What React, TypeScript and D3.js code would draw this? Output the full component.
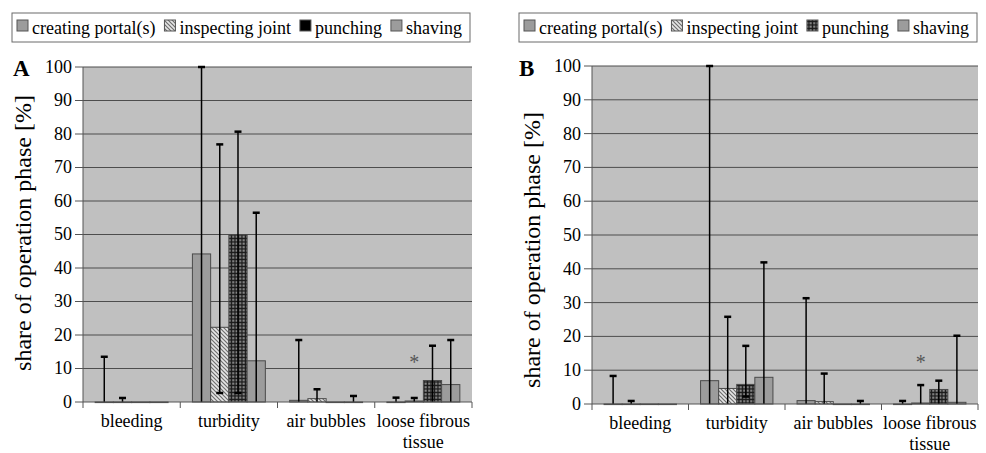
import React from "react";
import * as d3 from "d3";

const categories = ["bleeding", "turbidity", "air bubbles", "loose fibrous tissue"];
const categoryLines = [["bleeding"], ["turbidity"], ["air bubbles"], ["loose fibrous", "tissue"]];
const phases = ["creating portal(s)", "inspecting joint", "punching", "shaving"];
const yTicks = [0, 10, 20, 30, 40, 50, 60, 70, 80, 90, 100];

// panel A: means, upper whisker, lower whisker (per phase, per category)
const creatingA = [0, 44.2, 0.5, 0];
const inspectingA = [0, 22.3, 1.0, 0.3];
const punchingA = [0, 49.9, 0, 6.4];
const shavingA = [0, 12.3, 0, 5.2];
const creatingAHi = [13.5, 100, 18.5, 1.3];
const inspectingAHi = [1.2, 76.9, 3.8, 1.2];
const punchingAHi = [0, 80.7, 0, 16.8];
const shavingAHi = [0, 56.5, 1.8, 18.5];
const creatingALo = [0, 0, 0, 0];
const inspectingALo = [0, 2.7, 0, 0];
const punchingALo = [0, 2.7, 0, 0];
const shavingALo = [0, 0, 0, 0];

// panel B
const creatingB = [0, 6.9, 1.0, 0];
const inspectingB = [0, 4.6, 0.7, 0.3];
const punchingB = [0, 5.8, 0, 4.3];
const shavingB = [0, 7.9, 0, 0.5];
const creatingBHi = [8.3, 100, 31.3, 0.9];
const inspectingBHi = [0.9, 25.8, 9.0, 5.6];
const punchingBHi = [0, 17.2, 0, 6.9];
const shavingBHi = [0, 41.9, 0.9, 20.2];
const creatingBLo = [0, 0, 0, 0];
const inspectingBLo = [0, 0, 0, 0];
const punchingBLo = [0, 2.2, 0, 0];
const shavingBLo = [0, 0, 0, 0];

// asterisk marker (category, phase, height)
const starA = { cat: "loose fibrous tissue", phase: "inspecting joint", value: 12.8 };
const starB = { cat: "loose fibrous tissue", phase: "inspecting joint", value: 13.2 };

const panels = [
  {
    label: "A",
    means: [creatingA, inspectingA, punchingA, shavingA],
    hi: [creatingAHi, inspectingAHi, punchingAHi, shavingAHi],
    lo: [creatingALo, inspectingALo, punchingALo, shavingALo],
    star: starA,
    left: 83, right: 472, top: 67, bottom: 402,
    legendX: 12, legendW: 458, punchLegend: "#000",
    labelX: 13, titleX: 23, titleY: 233, xLabelY: 427,
  },
  {
    label: "B",
    means: [creatingB, inspectingB, punchingB, shavingB],
    hi: [creatingBHi, inspectingBHi, punchingBHi, shavingBHi],
    lo: [creatingBLo, inspectingBLo, punchingBLo, shavingBLo],
    star: starB,
    left: 592, right: 978, top: 66, bottom: 404,
    legendX: 519, legendW: 458, punchLegend: "url(#grid)",
    labelX: 519, titleX: 532, titleY: 250, xLabelY: 429,
  },
];

const fills = ["#9c9c9c", "url(#hatch)", "url(#grid)", "#9c9c9c"];
const serif = { fontFamily: '"Liberation Serif"' };

// legend text widths, measured with the same font
const measure = (() => {
  const ctx = document.createElement("canvas").getContext("2d");
  return (s: string, size: number) => {
    if (!ctx) return s.length * size * 0.42;
    ctx.font = `${size}px "Liberation Serif"`;
    return ctx.measureText(s).width;
  };
})();

const Panel = ({ p }: { p: (typeof panels)[number] }) => {
  const x = d3.scaleBand().domain(categories).range([p.left, p.right]).paddingInner(0).paddingOuter(0);
  const bw = x.bandwidth();
  const xs = d3.scaleBand().domain(phases).range([bw * 0.125, bw * 0.875]).padding(0);
  const y = d3.scaleLinear().domain([0, 100]).range([p.bottom, p.top]);
  const cx = (c: string, ph: string) => (x(c) as number) + (xs(ph) as number) + xs.bandwidth() / 2;

  let lx = p.legendX + 5;
  const legendItems = phases.map((ph, i) => {
    const item = { ph, x: lx, fill: i === 2 ? p.punchLegend : fills[i] };
    lx += 15 + measure(ph, 18) + 9;
    return item;
  });

  const bounds = categories.map((c) => x(c) as number).concat([p.right]);

  return (
    <g>
      {/* legend */}
      <rect x={p.legendX} y={13} width={p.legendW} height={29} fill="#fff" stroke="#6a6a6a" />
      {legendItems.map((it) => (
        <g key={it.ph}>
          <rect x={it.x} y={20} width={11} height={11} fill={it.fill} stroke="#555" />
          <text x={it.x + 15} y={34} fontSize={18} style={serif}>
            {it.ph}
          </text>
        </g>
      ))}

      <text x={p.labelX} y={76} fontSize={23} fontWeight="bold" style={serif}>
        {p.label}
      </text>

      {/* plot area */}
      <rect x={p.left} y={p.top} width={p.right - p.left} height={p.bottom - p.top} fill="#c0c0c0" />
      {yTicks
        .filter((d) => d > 0)
        .map((d) => (
          <line key={d} x1={p.left} x2={p.right} y1={y(d)} y2={y(d)} stroke="#4d4d4d" />
        ))}

      {/* bars */}
      {p.means.map((vals, si) =>
        vals.map((v, i) => (
          <rect
            key={`b${si}-${i}`}
            x={(x(categories[i]) as number) + (xs(phases[si]) as number)}
            y={y(v)}
            width={xs.bandwidth()}
            height={Math.max(y(0) - y(v), 0.6)}
            fill={fills[si]}
            stroke="#4a4a4a"
          />
        ))
      )}

      {/* error bars */}
      {p.means.map((vals, si) =>
        vals.map((v, i) => {
          const hi = p.hi[si][i];
          const lo = p.lo[si][i];
          if (hi <= v) return null;
          const c = cx(categories[i], phases[si]);
          return (
            <g key={`e${si}-${i}`} stroke="#000">
              <line x1={c} x2={c} y1={y(lo)} y2={y(hi)} strokeWidth={1.5} />
              <line x1={c - 3.5} x2={c + 3.5} y1={y(hi)} y2={y(hi)} strokeWidth={2.5} />
              {lo > 0 && <line x1={c - 3.5} x2={c + 3.5} y1={y(lo)} y2={y(lo)} strokeWidth={2.5} />}
            </g>
          );
        })
      )}

      <text
        x={cx(p.star.cat, p.star.phase)}
        y={y(p.star.value) + 10}
        textAnchor="middle"
        fontSize={20}
        fill="#555"
        style={serif}
      >
        *
      </text>

      {/* y axis */}
      <line x1={p.left} x2={p.left} y1={p.top} y2={p.bottom} stroke="#555" />
      {yTicks.map((d) => (
        <g key={d}>
          <line x1={p.left - 8} x2={p.left} y1={y(d)} y2={y(d)} stroke="#555" />
          <text x={p.left - 11} y={y(d)} dy="0.33em" textAnchor="end" fontSize={18} style={serif}>
            {d}
          </text>
        </g>
      ))}

      {/* x axis */}
      <line x1={p.left} x2={p.right} y1={y(0)} y2={y(0)} stroke="#555" />
      {bounds.map((b) => (
        <line key={b} x1={b} x2={b} y1={y(0)} y2={y(0) + 6} stroke="#555" />
      ))}
      {categories.map((c, i) => (
        <text key={c} y={p.xLabelY} textAnchor="middle" fontSize={18} style={serif}>
          {categoryLines[i].map((ln, k) => (
            <tspan key={ln} x={(x(c) as number) + bw / 2} dy={k === 0 ? 0 : 21}>
              {ln}
            </tspan>
          ))}
        </text>
      ))}

      <text
        transform={`translate(${p.titleX},${p.titleY}) rotate(-90)`}
        textAnchor="middle"
        dy="0.35em"
        fontSize={24}
        style={serif}
      >
        share of operation phase [%]
      </text>
    </g>
  );
};

const App = () => (
  <svg width={986} height={453} style={{ position: "absolute", left: 0, top: 0, background: "#fff" }}>
    <defs>
      <pattern id="hatch" patternUnits="userSpaceOnUse" width={4} height={4}>
        <rect width={4} height={4} fill="#e6e6e6" />
        <path d="M0,0L4,4M-1,3L1,5M3,-1L5,1" stroke="#6e6e6e" strokeWidth={1.2} />
      </pattern>
      <pattern id="grid" patternUnits="userSpaceOnUse" width={3.5} height={3.5}>
        <rect width={3.5} height={3.5} fill="#1a1a1a" />
        <rect x={1.2} y={1.2} width={2} height={2} fill="#9a9a9a" />
      </pattern>
    </defs>
    {panels.map((p) => (
      <Panel key={p.label} p={p} />
    ))}
  </svg>
);

export default App;
